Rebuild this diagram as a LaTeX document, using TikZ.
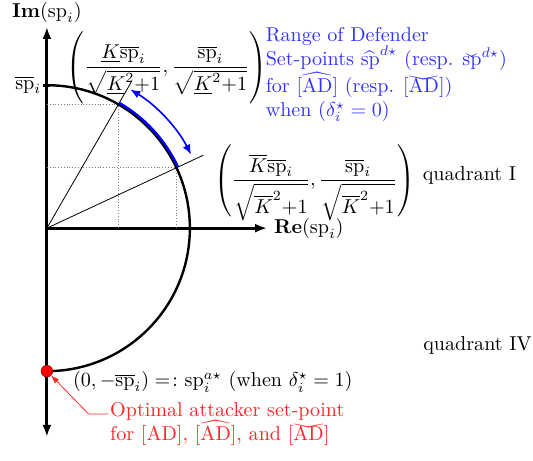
\documentclass[tikz,border=0pt]{standalone}
\usepackage{amsmath}
\usepackage{graphicx}
\usetikzlibrary{arrows.meta, positioning}
\newcommand{\spbar}{\overline{\mathrm{sp}}}
\newlength{\wchkht}
\newcommand{\wcheck}[1]{\settoheight{\wchkht}{$#1$}\mathord{\ooalign{$#1$\cr\hidewidth\raisebox{\dimexpr\wchkht+7.2pt\relax}{\scalebox{1}[-1]{$\widehat{\hphantom{#1}}$}}\hidewidth\cr}}}
\newcommand{\talldummy}{\vphantom{\dfrac{\overline{K}\spbar_i}{\sqrt{\overline{K}^2{+}1}}}}
\begin{document}
\begin{tikzpicture}[
		%inner sep=2mm,
		axis/.style={line width=1.5pt, -{Latex[length=6pt, width=4.5pt]}},
		ray/.style={thin},
		guide/.style={densely dotted, gray},
		rangearrow/.style={blue, thick, {Latex[length=5pt, width=4pt]}-{Latex[length=5pt, width=4pt]}},
		note/.style={inner sep=0pt, align=left}
		]
		\useasboundingbox (-0.82, -4.07) rectangle (8.50, 3.99);
		\coordinate (origin) at (0, 0);
		\coordinate (im top) at (0, 3.52);
		\coordinate (im bottom) at (0, -3.65);
		\coordinate (re end) at (3.85, 0);
		\coordinate (sp top) at (0, 2.5);
		\coordinate (upper point) at (60:2.5);
		\coordinate (lower point) at (25:2.5);
		\coordinate (upper ray) at (60:2.95);
		\coordinate (lower ray) at (25:3.02);
		\coordinate (range start) at (59:2.83);
		\coordinate (bend) at (0.73, -3.25);
		\coordinate (leader end) at (1.07, -3.25);

		% axes
		\draw[axis] (origin) -- (im top);
		\draw[axis] (origin) -- (im bottom);
		\draw[axis] (origin) -- (re end);
		\draw[line width=1.5pt] (-0.06, 2.5) -- (0.06, 2.5);

		% dotted projections
		\draw[guide] (upper point -| origin) -- (upper point) -- (upper point |- origin);
		\draw[guide] (lower point -| origin) -- (lower point) -- (lower point |- origin);

		% rays
		\draw[ray] (origin) -- (upper ray);
		\draw[ray] (origin) -- (lower ray);

		% circle and range
		\draw[very thick] (sp top) arc[start angle=90, end angle=-90, radius=2.5];
		\draw[blue, very thick] (60:2.53) arc[start angle=60, end angle=25, radius=2.53];
		\draw[rangearrow] (range start) arc[start angle=59, end angle=27, radius=2.83];

		% labels
		\node at (im top) [name=im label, anchor=south, inner sep=2pt] {$\textbf{Im}(\mathrm{sp}_i)$};
		\node at (-0.06, 2.5) [name=sp label, anchor=east, inner sep=1pt] {$\spbar_i$};
		\node at (re end) [name=re label, anchor=west] {$\textbf{Re}(\mathrm{sp}_i)$};
		\node at (2.10, 2.78) [name=upper formula] {$\left(\talldummy\dfrac{\underline{K}\spbar_i}{\sqrt{\underline{K}^2{+}1}}, \dfrac{\spbar_i}{\sqrt{\underline{K}^2{+}1}}\right)$};
		\node at (4.68, 0.80) [name=lower formula] {$\left(\dfrac{\overline{K}\spbar_i}{\sqrt{\overline{K}^2{+}1}}, \dfrac{\spbar_i}{\sqrt{\overline{K}^2{+}1}}\right)$};
		\node at (3.82, 2.69) [name=range note, note, anchor=west, text=blue!80] {Range of Defender\\
			Set-points $\widehat{\mathrm{sp}}^{d\star}$ (resp. $\wcheck{\mathrm{sp}}^{d\star}$)\\
			for $[\widehat{\mathrm{AD}}]$ (resp. $[\wcheck{\mathrm{AD}}]$)\\
			when $(\delta_i^\star = 0)$};
		\node at (7.39, 0.93) [name=quadrant one] {quadrant I};
		\node at (7.53, -2.05) [name=quadrant four] {quadrant IV};

		% attacker point
		\node at (0, -2.5) [name=attacker, circle, fill=red, draw=red!70!black, inner sep=0pt, minimum size=2mm] {};
		\node at (0.45, -2.69) [name=attacker label, anchor=west, inner sep=0pt] {$(0, -\spbar_i) =\colon \mathrm{sp}_i^{a\star}$ (when $\delta_i^\star = 1$)};
		\node at (1.10, -3.43) [name=attacker note, note, anchor=west, text=red!85] {Optimal attacker set-point\\
			for [AD], $[\widehat{\mathrm{AD}}]$, and $[\wcheck{\mathrm{AD}}]$};
		\draw[red!85, -{Latex[length=4pt, width=3pt]}] (leader end) -- (bend) -- (attacker);
	\end{tikzpicture}
\end{document}
